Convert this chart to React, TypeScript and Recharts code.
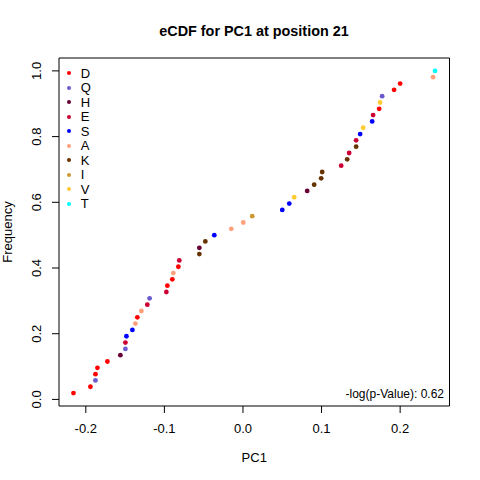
import React from "react";
import { Legend, ReferenceArea, Scatter, ScatterChart, XAxis, YAxis } from "recharts";

const FONT = '"Liberation Sans", Arial, sans-serif';

// residue categories, in legend order
const residues = ["D", "Q", "H", "E", "S", "A", "K", "I", "V", "T"];
const residueColors = ["#FF0000", "#6A5ACD", "#660033", "#CC0033", "#0000FF", "#FFA07A", "#663300", "#CC9933", "#FFCC33", "#00FFFF"];

// sorted PC1 values and the residue at each point
const pc1 = [
  -0.2157, -0.1941, -0.1877, -0.1877, -0.1852, -0.1725, -0.156, -0.1496, -0.1496, -0.1483,
  -0.1407, -0.1369, -0.1344, -0.1293, -0.1217, -0.1188, -0.0975, -0.0962, -0.0899, -0.0886,
  -0.0822, -0.081, -0.0555, -0.0555, -0.0479, -0.0365, -0.0149, 0.0004, 0.0118, 0.05,
  0.0589, 0.0652, 0.0817, 0.0906, 0.0995, 0.1008, 0.125, 0.1326, 0.1351, 0.144,
  0.144, 0.1491, 0.1529, 0.1644, 0.1656, 0.1733, 0.1745, 0.1771, 0.1923, 0.2,
  0.2419, 0.2444,
];
const pointResidue = [
  "D", "D", "Q", "D", "D", "D", "H", "Q", "E", "S",
  "S", "A", "D", "A", "E", "Q", "E", "D", "D", "A",
  "D", "E", "K", "H", "K", "S", "A", "A", "I", "S",
  "S", "V", "H", "K", "K", "K", "E", "K", "E", "K",
  "E", "S", "V", "S", "E", "D", "V", "Q", "D", "D",
  "A", "T",
];
const frequency = [
  0.0192, 0.0385, 0.0577, 0.0769, 0.0962, 0.1154, 0.1346, 0.1538, 0.1731, 0.1923,
  0.2115, 0.2308, 0.25, 0.2692, 0.2885, 0.3077, 0.3269, 0.3462, 0.3654, 0.3846,
  0.4038, 0.4231, 0.4423, 0.4615, 0.4808, 0.5, 0.5192, 0.5385, 0.5577, 0.5769,
  0.5962, 0.6154, 0.6346, 0.6538, 0.6731, 0.6923, 0.7115, 0.7308, 0.75, 0.7692,
  0.7885, 0.8077, 0.8269, 0.8462, 0.8654, 0.8846, 0.9038, 0.9231, 0.9423, 0.9615,
  0.9808, 1.0,
];

const xTicks = [-0.2, -0.1, 0, 0.1, 0.2];
const yTicks = [0, 0.2, 0.4, 0.6, 0.8, 1];

const points = pc1.map((x, i) => ({ x, y: frequency[i], residue: pointResidue[i] }));

// R-style axis range: data range plus 4% on each side
function padded(values: number[]): [number, number] {
  const lo = Math.min(...values);
  const hi = Math.max(...values);
  const pad = (hi - lo) * 0.04;
  return [lo - pad, hi + pad];
}
const xDomain = padded(pc1);
const yDomain = padded(frequency);

const YTick = ({ x, y, payload }: any) => (
  <text
    x={x}
    y={y}
    dy={-10.5}
    transform={`rotate(-90 ${x} ${y})`}
    textAnchor="middle"
    fontSize={13}
    fontFamily={FONT}
    fill="#000"
  >
    {Number(payload.value).toFixed(1)}
  </text>
);

const renderLegend = () => (
  <div style={{ fontFamily: FONT, fontSize: 13, color: "#000" }}>
    {residues.map((r, i) => (
      <div key={r} style={{ display: "flex", alignItems: "center", height: 14.5 }}>
        <span
          style={{
            display: "inline-block",
            width: 4.4,
            height: 4.4,
            borderRadius: "50%",
            background: residueColors[i],
            marginLeft: 3.1,
            marginRight: 9.2,
          }}
        />
        <span>{r}</span>
      </div>
    ))}
  </div>
);

export default function App() {
  return (
    <div style={{ position: "absolute", left: 0, top: 0, width: 480, height: 480, background: "#fff" }}>
      <ScatterChart width={480} height={480} margin={{ top: 58, right: 30.5, bottom: 0, left: 0 }}>
        <XAxis
          type="number"
          dataKey="x"
          domain={xDomain}
          ticks={xTicks}
          allowDataOverflow
          axisLine={false}
          tickLine={{ stroke: "#000" }}
          tickSize={7}
          tickMargin={11}
          height={74}
          tick={{ fill: "#000", fontSize: 13, fontFamily: FONT }}
          tickFormatter={(v: number) => v.toFixed(1)}
          label={{ value: "PC1", position: "insideBottom", offset: 18, fill: "#000", fontSize: 13, fontFamily: FONT }}
        />
        <YAxis
          type="number"
          dataKey="y"
          domain={yDomain}
          ticks={yTicks}
          allowDataOverflow
          axisLine={false}
          tickLine={{ stroke: "#000" }}
          tickSize={7}
          tickMargin={0}
          width={59}
          tick={<YTick />}
          label={{
            value: "Frequency",
            angle: -90,
            position: "insideLeft",
            offset: 7,
            fill: "#000",
            fontSize: 13,
            fontFamily: FONT,
            style: { textAnchor: "middle" },
          }}
        />
        <ReferenceArea
          x1={xDomain[0]}
          x2={xDomain[1]}
          y1={yDomain[0]}
          y2={yDomain[1]}
          fill="none"
          stroke="#000"
          strokeWidth={1}
          ifOverflow="visible"
        />
        {residues.map((r, i) => (
          <Scatter
            key={r}
            name={r}
            data={points.filter((p) => p.residue === r)}
            fill={residueColors[i]}
            isAnimationActive={false}
            shape={(p: any) => <circle cx={p.cx} cy={p.cy} r={2.4} fill={residueColors[i]} />}
          />
        ))}
        <Legend
          layout="vertical"
          align="center"
          verticalAlign="middle"
          content={renderLegend}
          wrapperStyle={{ left: 64, top: 66, width: "auto", height: "auto" }}
        />
      </ScatterChart>
      <svg width={480} height={480} style={{ position: "absolute", left: 0, top: 0, pointerEvents: "none" }}>
        <text x={254} y={36} textAnchor="middle" fontWeight="bold" fontSize={14.4} fontFamily={FONT} fill="#000">
          eCDF for PC1 at position 21
        </text>
        <text x={444} y={398} textAnchor="end" fontSize={12} fontFamily={FONT} fill="#000">
          -log(p-Value): 0.62
        </text>
      </svg>
    </div>
  );
}
